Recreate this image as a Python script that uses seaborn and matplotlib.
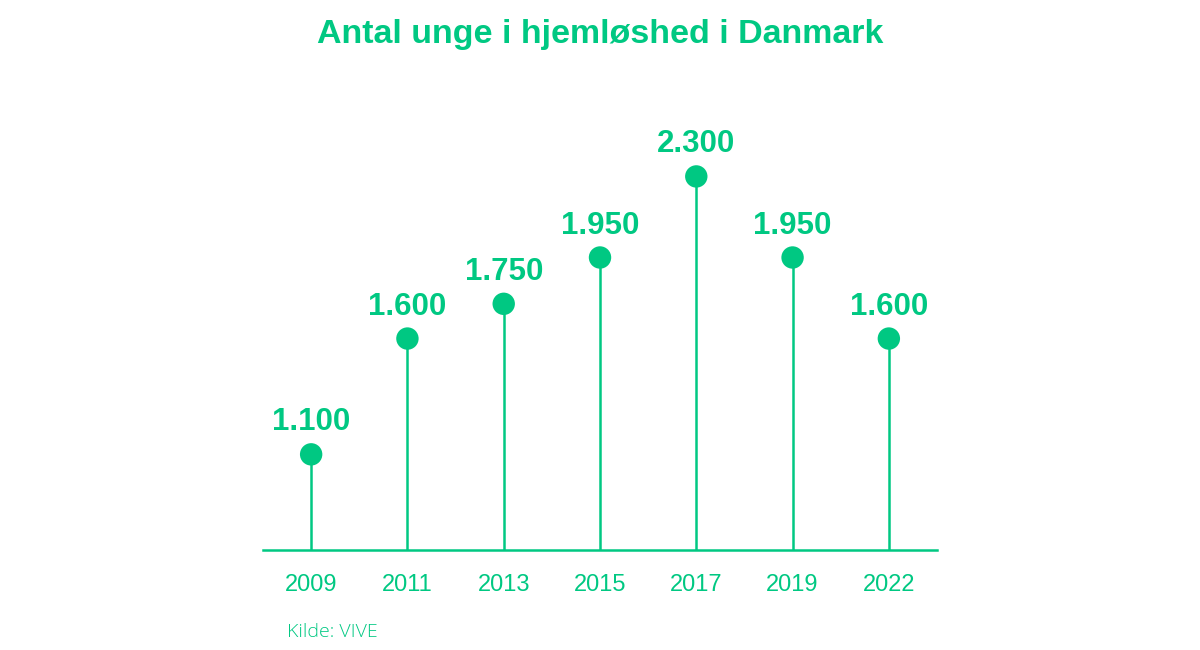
import matplotlib
matplotlib.use("Agg")
import matplotlib.pyplot as plt
import seaborn as sns
import pandas as pd

# data
years = ["2009", "2011", "2013", "2015", "2017", "2019", "2022"]
antal = [1100, 1600, 1750, 1950, 2300, 1950, 1600]
labels = ["1.100", "1.600", "1.750", "1.950", "2.300", "1.950", "1.600"]

green = "#00c882"
base = 687  # value where the stems start (baseline)

df = pd.DataFrame({"aar": years, "antal": antal})

sns.set_style("white")
plt.rcParams['font.family'] = ['Liberation Sans', 'DejaVu Sans']

fig = plt.figure(figsize=(12, 6.5), dpi=100)
ax = fig.add_axes([263 / 1200, 100 / 650, (937 - 263) / 1200, 450 / 650])

pos = list(range(len(years)))
ax.vlines(pos, base, df["antal"], color=green, linewidth=1.8, zorder=1)
sns.scatterplot(data=df, x="aar", y="antal", color=green, s=260,
                edgecolor="none", ax=ax, zorder=2)

for p, v, lab in zip(pos, antal, labels):
    ax.annotate(lab, (p, v), xytext=(0, 23), textcoords="offset points",
                ha="center", va="center", fontsize=22.5, fontweight="bold",
                color=green)

ax.set_xlim(-0.5, 6.5)
ax.set_ylim(base, base + 450 / 0.2316)
ax.set_xlabel("")
ax.set_ylabel("")
ax.set_yticks([])
ax.set_xticks(pos)
ax.set_xticklabels(years, fontsize=17, color=green)
ax.tick_params(axis="x", length=0, pad=17)

for s in ["top", "right", "left"]:
    ax.spines[s].set_visible(False)
ax.spines["bottom"].set_color(green)
ax.spines["bottom"].set_linewidth(1.8)

fig.text(0.5, 1 - 35 / 650, "Antal unge i hjemløshed i Danmark",
         ha="center", va="center", fontsize=24.5, fontweight="bold", color=green)
fig.text(287 / 1200, 1 - 632 / 650, "Kilde: VIVE", ha="left", va="center",
         fontsize=14, color=green, family=['Open Sans', 'DejaVu Sans'],
         fontweight="light")

fig.savefig("out.png", dpi=100, facecolor="white")
